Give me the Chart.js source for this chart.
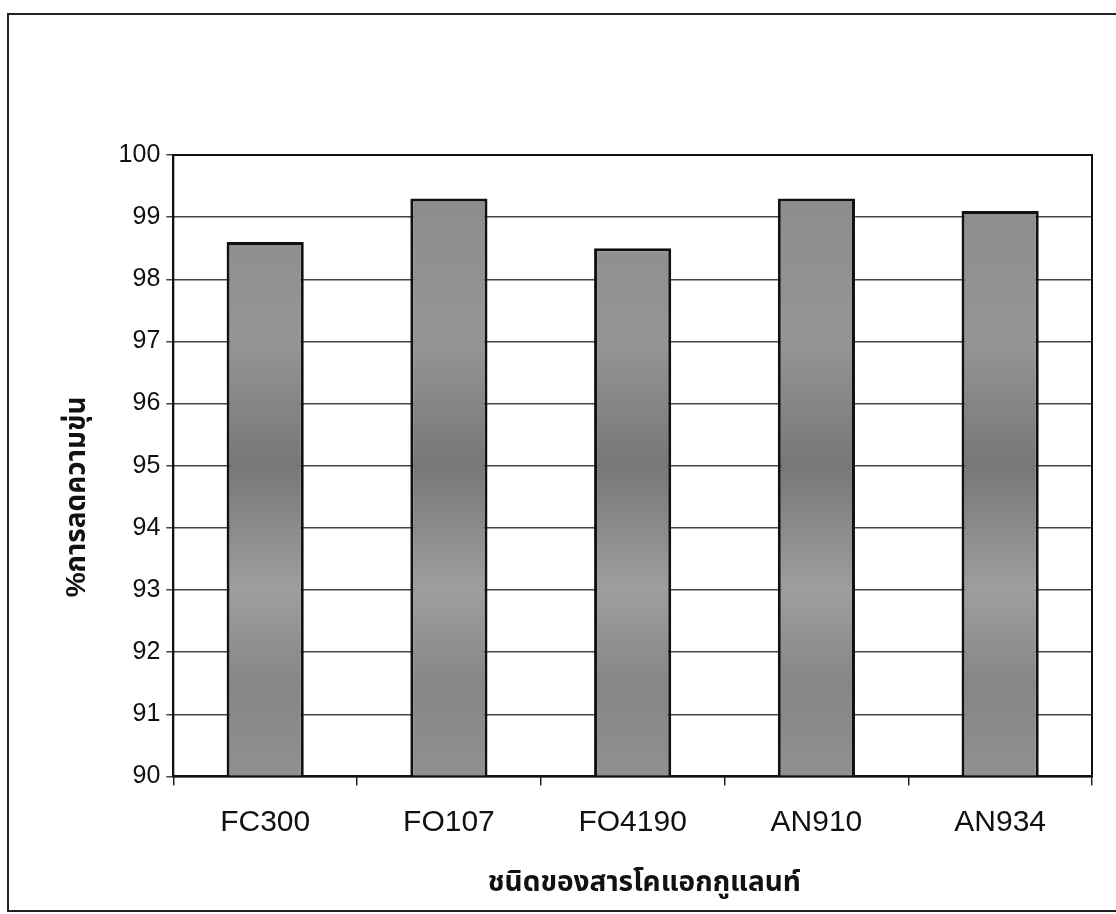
<!DOCTYPE html>
<html>
<head>
<meta charset="utf-8">
<script src="https://cdn.jsdelivr.net/npm/chart.js@4/dist/chart.umd.min.js"></script>
<style>
    html, body { margin: 0; padding: 0; background: #fff; }
    #wrap { position: relative; width: 1116px; height: 914px; overflow: hidden; }
    #frame { position: absolute; left: 7px; top: 13px; width: 1120px; height: 899px; border: 2px solid #222; box-sizing: border-box; }
    #c { position: absolute; left: 0; top: 0; }
</style>
</head>
<body>
<div id="wrap">
    <div id="frame"></div>
    <canvas id="c" width="1116" height="914"></canvas>
</div>
<script>
var categories = ['FC300', 'FO107', 'FO4190', 'AN910', 'AN934'];
var reduction = [98.6, 99.3, 98.5, 99.3, 99.1];
var yTitle = '%การลดความขุ่น';
var xTitle = 'ชนิดของสารโคแอกกูแลนท์';

var fontFamily = '"Liberation Sans", Arial, "Noto Sans Thai", "Noto Sans", sans-serif';

// grey fill with the darker band around 95 like the scan
function barFill(context) {
    var chart = context.chart;
    var area = chart.chartArea;
    if (!area) return '#8c8c8c';
    var g = chart.ctx.createLinearGradient(0, area.top, 0, area.bottom);
    g.addColorStop(0.0, '#8a8a8a');
    g.addColorStop(0.3, '#959595');
    g.addColorStop(0.5, '#777777');
    g.addColorStop(0.7, '#9e9e9e');
    g.addColorStop(0.85, '#868686');
    g.addColorStop(1.0, '#909090');
    return g;
}

var boxPlugin = {
    id: 'plotBox',
    afterDraw: function (chart) {
        var a = chart.chartArea;
        var ctx = chart.ctx;
        ctx.save();
        ctx.strokeStyle = '#111';
        ctx.lineWidth = 2;
        ctx.strokeRect(a.left, a.top, a.right - a.left, a.bottom - a.top);
        ctx.restore();
    }
};

var ctx = document.getElementById('c').getContext('2d');
var chart = new Chart(ctx, {
    type: 'bar',
    data: {
        labels: categories,
        datasets: [{
            label: yTitle,
            data: reduction,
            backgroundColor: barFill,
            borderColor: '#111',
            borderWidth: 3,
            borderSkipped: false,
            barPercentage: 0.42,
            categoryPercentage: 1
        }]
    },
    options: {
        responsive: false,
        animation: false,
        layout: { padding: { left: 60, right: 24, top: 155, bottom: 14 } },
        plugins: {
            legend: { display: false },
            tooltip: { enabled: false }
        },
        scales: {
            x: {
                offset: true,
                grid: {
                    offset: true,
                    drawOnChartArea: false,
                    drawTicks: true,
                    tickLength: 9,
                    color: '#222',
                    lineWidth: 1.5
                },
                border: { color: '#111', width: 2 },
                ticks: {
                    color: '#111',
                    padding: 19,
                    font: { family: fontFamily, size: 30 }
                },
                title: {
                    display: true,
                    text: '\u00a0\u00a0\u00a0' + xTitle,
                    color: '#111',
                    padding: { top: 7, bottom: 0 },
                    font: { family: fontFamily, size: 28, weight: 'bold' }
                }
            },
            y: {
                min: 90,
                max: 100,
                ticks: {
                    stepSize: 1,
                    color: '#111',
                    padding: 6,
                    font: { family: fontFamily, size: 25 }
                },
                grid: {
                    color: '#444',
                    lineWidth: 1.5,
                    tickLength: 7
                },
                border: { color: '#111', width: 2 },
                title: {
                    display: true,
                    text: yTitle + '\u00a0\u00a0\u00a0\u00a0\u00a0\u00a0\u00a0\u00a0',
                    color: '#111',
                    padding: { top: 0, bottom: 19 },
                    font: { family: fontFamily, size: 28, weight: 'bold' }
                }
            }
        }
    },
    plugins: [boxPlugin]
});
</script>
</body>
</html>
